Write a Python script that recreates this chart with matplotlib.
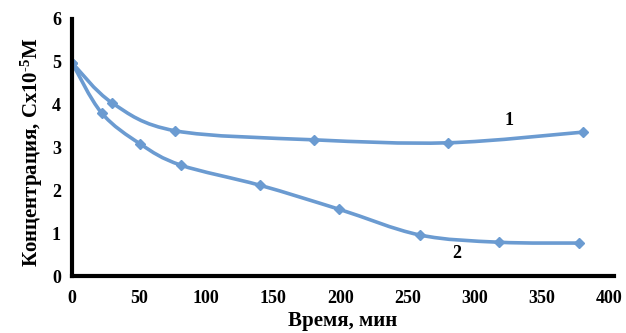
import numpy as np
import matplotlib
matplotlib.use("Agg")
import matplotlib.pyplot as plt
from matplotlib.path import Path
from matplotlib.patches import PathPatch

# data
t1 = [0, 30, 77, 180, 280, 381]
c1 = [4.98, 4.04, 3.39, 3.18, 3.11, 3.36]
t2 = [0, 22, 51, 81, 140, 199, 259, 318, 378]
c2 = [4.98, 3.81, 3.08, 2.59, 2.12, 1.56, 0.96, 0.79, 0.77]

plt.rcParams['font.family'] = 'Liberation Serif'
plt.rcParams['font.weight'] = 'bold'
plt.rcParams['mathtext.fontset'] = 'custom'
plt.rcParams['mathtext.rm'] = 'Liberation Serif:bold'
plt.rcParams['mathtext.it'] = 'Liberation Serif:bold'
plt.rcParams['mathtext.bf'] = 'Liberation Serif:bold'

col = '#6b9bd1'


# smooth line like excel's "smoothed line" (cubic bezier through the points)
def smooth_path(x, y, k=1 / 6):
    x = np.asarray(x, float)
    y = np.asarray(y, float)
    verts = [(x[0], y[0])]
    codes = [Path.MOVETO]
    n = len(x)
    for i in range(n - 1):
        p0 = np.array([x[max(i - 1, 0)], y[max(i - 1, 0)]])
        p1 = np.array([x[i], y[i]])
        p2 = np.array([x[i + 1], y[i + 1]])
        p3 = np.array([x[min(i + 2, n - 1)], y[min(i + 2, n - 1)]])
        c1_ = p1 + (p2 - p0) * k
        c2_ = p2 - (p3 - p1) * k
        verts += [tuple(c1_), tuple(c2_), tuple(p2)]
        codes += [Path.CURVE4] * 3
    return Path(verts, codes)


fig = plt.figure(figsize=(6.26, 3.33), dpi=100)
ax = fig.add_axes([0.115, 0.171, 0.866, 0.772])

for t, c in [(t1, c1), (t2, c2)]:
    ax.add_patch(PathPatch(smooth_path(t, c), fill=False, edgecolor=col, lw=2.6))
    ax.plot(t, c, ls='none', marker='D', ms=5, color=col)

ax.text(326, 3.64, '1', fontsize=13, fontweight='bold', ha='center', va='center')
ax.text(287, 0.52, '2', fontsize=13, fontweight='bold', ha='center', va='center')

ax.set_xlim(0, 404)
ax.set_ylim(0, 6)
ax.set_xticks(np.arange(0, 401, 50))
ax.set_yticks(np.arange(0, 7, 1))
ax.tick_params(length=0, labelsize=13)
ax.tick_params(axis='x', pad=10)
ax.tick_params(axis='y', pad=8)
for lab in ax.get_xticklabels() + ax.get_yticklabels():
    lab.set_fontweight('bold')

for s in ['top', 'right']:
    ax.spines[s].set_visible(False)
for s in ['left', 'bottom']:
    ax.spines[s].set_linewidth(3)
    ax.spines[s].set_color('black')

ax.set_xlabel('Время, мин', fontsize=15, fontweight='bold', va='baseline')
ax.xaxis.set_label_coords(0.5, -0.196)
ax.set_ylabel(r'Концентрация, Сx10$^{\text{-5}}$М', fontsize=15, fontweight='bold')
ax.yaxis.set_label_coords(-0.05, 0.48)

fig.savefig('out.png', dpi=100)
